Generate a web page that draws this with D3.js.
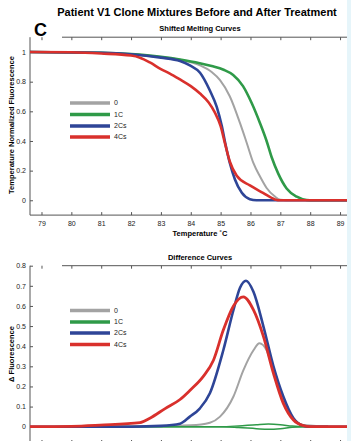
<!DOCTYPE html>
<html>
<head>
<meta charset="utf-8">
<script src="https://cdn.jsdelivr.net/npm/d3@7"></script>
<style>
  body { margin: 0; background: #fff; }
  svg { font-family: "Liberation Sans", Arial, sans-serif; }
  .axis path, .axis line { stroke: #555; }
  .axis text { font-size: 7px; fill: #222; }
</style>
</head>
<body>
<div id="chart-area"></div>
<script>

// DATA (temperature, value)

var seriesNames = ["0", "1C", "2Cs", "4Cs"];
var seriesColors = ["#a3a3a3", "#2f9a48", "#2e4597", "#d9302c"];
var xTicks = [79, 80, 81, 82, 83, 84, 85, 86, 87, 88, 89];
var meltTicks = [0, 0.2, 0.4, 0.6, 0.8, 1];
var diffTicks = [0, 0.1, 0.2, 0.3, 0.4, 0.5, 0.6, 0.7, 0.8];

var melt0 = [[78.6,1],[81,0.995],[82,0.985],[83,0.967],[83.64,0.948],[84.31,0.91],[84.7,0.865],[84.98,0.81],[85.31,0.70],[85.65,0.52],[85.87,0.39],[86.1,0.25],[86.32,0.16],[86.54,0.083],[86.82,0.025],[87,0.003],[87.2,0],[89.3,0]];
var melt1C = [[78.6,1],[81,0.995],[82,0.986],[83,0.968],[83.64,0.95],[84.3,0.925],[84.7,0.905],[85.1,0.88],[85.42,0.845],[85.75,0.77],[86.04,0.656],[86.32,0.52],[86.54,0.40],[86.71,0.29],[86.93,0.18],[87.21,0.08],[87.55,0.024],[87.88,0.002],[88.1,0],[89.3,0]];
var melt2Cs = [[78.6,1],[81,0.995],[82,0.985],[83,0.962],[83.64,0.94],[83.97,0.91],[84.31,0.86],[84.64,0.74],[84.87,0.63],[85.04,0.50],[85.15,0.39],[85.31,0.25],[85.48,0.14],[85.71,0.05],[85.98,0.007],[86.2,0],[89.3,0]];
var melt4Cs = [[78.6,1],[80,0.998],[81,0.99],[82,0.976],[82.3,0.962],[82.63,0.93],[83.0,0.885],[83.3,0.855],[83.64,0.815],[84.0,0.77],[84.31,0.72],[84.6,0.66],[84.8,0.595],[85.0,0.50],[85.15,0.38],[85.31,0.26],[85.54,0.165],[85.98,0.10],[86.42,0.05],[86.82,0.006],[87,0],[89.3,0]];

var diff0 = [[80.5,0.004],[83,0.004],[84,0.007],[84.64,0.02],[84.98,0.05],[85.43,0.15],[85.76,0.28],[86.1,0.38],[86.3,0.415],[86.54,0.38],[86.77,0.28],[87.1,0.13],[87.44,0.04],[87.77,0.008],[88.2,0.004],[88.6,0.004]];
var diff1C = [[78.6,0],[85,0],[85.6,0.004],[86.2,0.01],[86.6,0.013],[87,0.01],[87.4,0.003],[87.8,0],[89.3,0]];
var diff1Cb = [[78.6,0],[85,0],[85.6,-0.004],[86.2,-0.01],[86.6,-0.013],[87,-0.01],[87.4,-0.003],[87.8,0],[89.3,0]];
var diff2Cs = [[78.6,0],[82,0],[83,0.004],[83.64,0.015],[83.97,0.05],[84.3,0.09],[84.64,0.166],[85.09,0.38],[85.43,0.58],[85.65,0.69],[85.85,0.725],[86.1,0.67],[86.43,0.50],[86.77,0.30],[87.1,0.15],[87.44,0.042],[87.77,0.005],[88,0],[89.3,0]];
var diff4Cs = [[78.6,0],[80,0.002],[80.96,0.008],[82.3,0.02],[82.63,0.042],[83.14,0.09],[83.64,0.135],[83.97,0.18],[84.42,0.25],[84.76,0.33],[85.09,0.48],[85.43,0.60],[85.76,0.645],[86.1,0.58],[86.43,0.45],[86.77,0.265],[87.1,0.116],[87.44,0.033],[87.77,0.005],[88,0],[89.3,0]];


// CHART AREA

var W = 351, H = 441;

var svg = d3.select("#chart-area").append("svg")
    .attr("width", W)
    .attr("height", H);

var x = d3.scaleLinear()
    .domain([78.615, 89.3])
    .range([30, 349]);

var yMelt = d3.scaleLinear()
    .domain([-0.1, 1.1])
    .range([215.1, 37.2]);

var yDiff = d3.scaleLinear()
    .domain([-0.086, 0.8])
    .range([444, 265.7]);

function tickFmt(d) {
    return (d === 0 || d === 1) ? String(d) : d.toFixed(1);
}


// TITLES

svg.append("text")
    .attr("x", 197).attr("y", 16)
    .attr("text-anchor", "middle")
    .style("font-size", "11px").style("font-weight", "bold")
    .text("Patient V1 Clone Mixtures Before and After Treatment");

svg.append("text")
    .attr("x", 34).attr("y", 36)
    .style("font-size", "18px").style("font-weight", "bold")
    .text("C");


function drawPanel(y, yTicks, title, titleY, yLabel, yLabelY, showBottom, series, legendY) {

    var g = svg.append("g");

    var clipId = "clip" + titleY;
    g.append("clipPath").attr("id", clipId)
        .append("rect")
        .attr("x", x.range()[0]).attr("y", y.range()[1])
        .attr("width", x.range()[1] - x.range()[0])
        .attr("height", y.range()[0] - y.range()[1]);

    // top axis (ticks only, line starts after the "C")
    var topAxis = g.append("g")
        .attr("class", "axis")
        .attr("transform", "translate(0," + y.range()[1] + ")")
        .call(d3.axisBottom(x).tickValues(xTicks).tickSize(3).tickFormat(""));
    topAxis.select(".domain").remove();
    topAxis.append("line")
        .attr("x1", 62).attr("x2", 350)
        .attr("stroke", "#555");

    if (showBottom) {
        var bottomAxis = g.append("g")
            .attr("class", "axis")
            .attr("transform", "translate(0," + y.range()[0] + ")")
            .call(d3.axisTop(x).tickValues(xTicks).tickSize(3).tickFormat(""));
        bottomAxis.select(".domain").remove();
        bottomAxis.append("line")
            .attr("x1", 30).attr("x2", 350)
            .attr("stroke", "#555");
        g.append("g")
            .attr("class", "axis")
            .attr("transform", "translate(0," + y.range()[0] + ")")
            .call(d3.axisBottom(x).tickValues(xTicks).tickSize(0).tickPadding(6))
            .select(".domain").remove();
    } else {
        g.append("g")
            .attr("class", "axis")
            .attr("transform", "translate(0," + (y.range()[0] - 1) + ")")
            .call(d3.axisTop(x).tickValues(xTicks).tickSize(3).tickFormat(""))
            .select(".domain").remove();
    }

    var leftAxis = g.append("g")
        .attr("class", "axis")
        .attr("transform", "translate(" + x.range()[0] + ",0)")
        .call(d3.axisRight(y).tickValues(yTicks).tickSize(3).tickFormat(""));
    leftAxis.select(".domain").remove();
    leftAxis.append("line")
        .attr("y1", y.range()[1]).attr("y2", y.range()[0] + (showBottom ? 0 : 3))
        .attr("stroke", "#555");
    g.append("g")
        .attr("class", "axis")
        .attr("transform", "translate(" + x.range()[0] + ",0)")
        .call(d3.axisLeft(y).tickValues(yTicks).tickSize(0).tickPadding(4).tickFormat(tickFmt))
        .select(".domain").remove();

    g.append("text")
        .attr("x", 200).attr("y", titleY)
        .attr("text-anchor", "middle")
        .style("font-size", "7.5px").style("font-weight", "bold")
        .text(title);

    g.append("text")
        .attr("transform", "translate(14," + yLabelY + ") rotate(-90)")
        .attr("text-anchor", "middle")
        .style("font-size", "7.5px").style("font-weight", "bold")
        .text(yLabel);

    // ---- CURVES ----
    var line = d3.line()
        .x(function(d) { return x(d[0]); })
        .y(function(d) { return y(d[1]); })
        .curve(d3.curveMonotoneX);

    g.append("g").attr("clip-path", "url(#" + clipId + ")")
        .selectAll("path.curve")
        .data(series)
        .enter()
        .append("path")
        .attr("class", "curve")
        .attr("fill", "none")
        .attr("stroke", function(d) { return seriesColors[d.k]; })
        .attr("stroke-width", function(d) { return d.w; })
        .attr("d", function(d) { return line(d.values); });

    // ---- LEGEND ----
    var leg = g.append("g").selectAll("g")
        .data(seriesNames)
        .enter().append("g")
        .attr("transform", function(d, i) { return "translate(0," + legendY[i] + ")"; });
    leg.append("line")
        .attr("x1", 70).attr("x2", 110)
        .attr("stroke", function(d, i) { return seriesColors[i]; })
        .attr("stroke-width", 3.5);
    leg.append("text")
        .attr("x", 114).attr("dy", "0.35em")
        .style("font-size", "7px").style("fill", "#222")
        .text(function(d) { return d; });
}

drawPanel(yMelt, meltTicks, "Shifted Melting Curves", 31,
    "Temperature Normalized Fluorescence", 125, true,
    [{k: 0, values: melt0, w: 2}, {k: 1, values: melt1C, w: 2.6}, {k: 2, values: melt2Cs, w: 2.6}, {k: 3, values: melt4Cs, w: 2.6}],
    [103, 114.5, 126, 137]);

drawPanel(yDiff, diffTicks, "Difference Curves", 260,
    "\u0394 Fluorescence", 354, false,
    [{k: 0, values: diff0, w: 2}, {k: 1, values: diff1C, w: 1.5}, {k: 1, values: diff1Cb, w: 1.5}, {k: 2, values: diff2Cs, w: 2.6}, {k: 3, values: diff4Cs, w: 2.8}],
    [310.5, 322, 333, 344.5]);

svg.append("text")
    .attr("x", 200).attr("y", 236)
    .attr("text-anchor", "middle")
    .style("font-size", "7.5px").style("font-weight", "bold")
    .text("Temperature \u02DAC");

// faint border strip on the right edge
svg.append("rect")
    .attr("x", 347).attr("y", 0).attr("width", 4).attr("height", H)
    .attr("fill", "#e6f5fa");

</script>
</body>
</html>
